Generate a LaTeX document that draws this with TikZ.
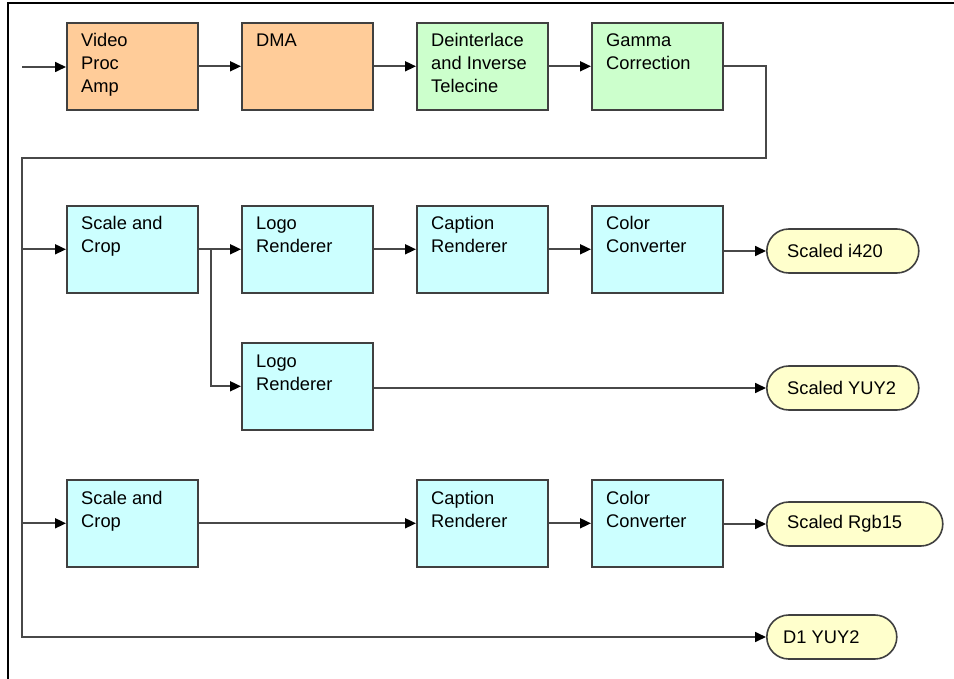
\documentclass[tikz,border=0pt]{standalone}
\usepackage{fontspec}
\setmainfont{Liberation Sans}
\usetikzlibrary{arrows.meta,shapes.misc}
\definecolor{orangefill}{HTML}{FFCC99}
\definecolor{greenfill}{HTML}{CCFFCC}
\definecolor{cyanfill}{HTML}{CCFFFF}
\definecolor{termfill}{HTML}{FFFFCC}
\definecolor{boxline}{HTML}{404040}
\definecolor{lineclr}{HTML}{484848}
\begin{document}
\begin{tikzpicture}[x=1pt,y=-1pt,
  box/.style={draw=boxline, line width=1.6pt, minimum width=131pt, minimum height=87pt, inner sep=0pt, anchor=north west},
  lbl/.style={anchor=base west, inner sep=0pt, font=\fontsize{18.3}{23}\selectfont},
  term/.style={rounded rectangle, draw=boxline, fill=termfill, line width=1.6pt, minimum height=44pt, inner sep=0pt, anchor=west},
  tlbl/.style={anchor=west, inner sep=0pt, font=\fontsize{18.3}{23}\selectfont},
  conn/.style={draw=lineclr, line width=1.7pt},
  arr/.style={conn, -{Triangle[length=11pt,width=10pt,color=black]}}]
\useasboundingbox (0,0) rectangle (954,679);
% frame
\draw[line width=1.2pt] (8,679) -- (8,3) -- (954,3);
% row 1
\node[box, fill=orangefill] (vpa) at (66,22) {};
\node[lbl] (vpat) at ([xshift=15pt,yshift=-25pt]vpa.north west) {\parbox[t]{120pt}{Video\\Proc\\Amp}};
\node[box, fill=orangefill] (dma) at (241,22) {};
\node[lbl] (dmat) at ([xshift=15pt,yshift=-25pt]dma.north west) {\parbox[t]{120pt}{DMA}};
\node[box, fill=greenfill] (dit) at (416,22) {};
\node[lbl] (ditt) at ([xshift=15pt,yshift=-25pt]dit.north west) {\parbox[t]{120pt}{Deinterlace\\and Inverse\\Telecine}};
\node[box, fill=greenfill] (gam) at (591,22) {};
\node[lbl] (gamt) at ([xshift=15pt,yshift=-25pt]gam.north west) {\parbox[t]{120pt}{Gamma\\Correction}};
% row 2
\node[box, fill=cyanfill] (sc1) at (66,205) {};
\node[lbl] (sc1t) at ([xshift=15pt,yshift=-25pt]sc1.north west) {\parbox[t]{120pt}{Scale and\\Crop}};
\node[box, fill=cyanfill] (lg1) at (241,205) {};
\node[lbl] (lg1t) at ([xshift=15pt,yshift=-25pt]lg1.north west) {\parbox[t]{120pt}{Logo\\Renderer}};
\node[box, fill=cyanfill] (cp1) at (416,205) {};
\node[lbl] (cp1t) at ([xshift=15pt,yshift=-25pt]cp1.north west) {\parbox[t]{120pt}{Caption\\Renderer}};
\node[box, fill=cyanfill] (cc1) at (591,205) {};
\node[lbl] (cc1t) at ([xshift=15pt,yshift=-25pt]cc1.north west) {\parbox[t]{120pt}{Color\\Converter}};
\node[term, minimum width=152pt] (ti420) at (766,251) {};
\node[tlbl] (ti420t) at ([xshift=21pt]ti420.west) {Scaled i420};
% logo 2
\node[box, fill=cyanfill] (lg2) at (241,342) {};
\node[lbl] (lg2t) at ([xshift=15pt,yshift=-25pt]lg2.north west) {\parbox[t]{120pt}{Logo\\Renderer}};
\node[term, minimum width=152pt] (tyuy) at (766,388) {};
\node[tlbl] (tyuyt) at ([xshift=21pt]tyuy.west) {Scaled YUY2};
% row 3
\node[box, fill=cyanfill] (sc2) at (66,479) {};
\node[lbl] (sc2t) at ([xshift=15pt,yshift=-25pt]sc2.north west) {\parbox[t]{120pt}{Scale and\\Crop}};
\node[box, fill=cyanfill] (cp2) at (416,479) {};
\node[lbl] (cp2t) at ([xshift=15pt,yshift=-25pt]cp2.north west) {\parbox[t]{120pt}{Caption\\Renderer}};
\node[box, fill=cyanfill] (cc2) at (591,479) {};
\node[lbl] (cc2t) at ([xshift=15pt,yshift=-25pt]cc2.north west) {\parbox[t]{120pt}{Color\\Converter}};
\node[term, minimum width=176pt] (trgb) at (766,524) {};
\node[tlbl] (trgbt) at ([xshift=21pt]trgb.west) {Scaled Rgb15};
\node[term, minimum width=130pt] (td1) at (766,637) {};
\node[tlbl] (td1t) at ([xshift=17pt]td1.west) {D1 YUY2};
% coordinates
\coordinate (in) at (22,67);
\coordinate (gturn) at (766,158);
\coordinate (btop) at (22,158);
\coordinate (br) at (211,248);
% connectors
\draw[arr] (in) -- (in -| vpa.west);
\draw[arr] (vpa) -- (dma);
\draw[arr] (dma) -- (dit);
\draw[arr] (dit) -- (gam);
\draw[arr] (gam.east) -| (gturn) -- (btop) |- (td1.west);
\draw[arr] (sc1.west -| btop) -- (sc1.west);
\draw[arr] (sc2.west -| btop) -- (sc2.west);
\draw[arr] (sc1) -- (lg1);
\draw[arr] (lg1) -- (cp1);
\draw[arr] (cp1) -- (cc1);
\draw[arr] (ti420.west -| cc1.east) -- (ti420.west);
\draw[arr] (sc1.east -| br) |- (lg2.west);
\draw[arr] (tyuy.west -| lg2.east) -- (tyuy.west);
\draw[arr] (sc2) -- (cp2);
\draw[arr] (cp2) -- (cc2);
\draw[arr] (trgb.west -| cc2.east) -- (trgb.west);
\end{tikzpicture}
\end{document}
